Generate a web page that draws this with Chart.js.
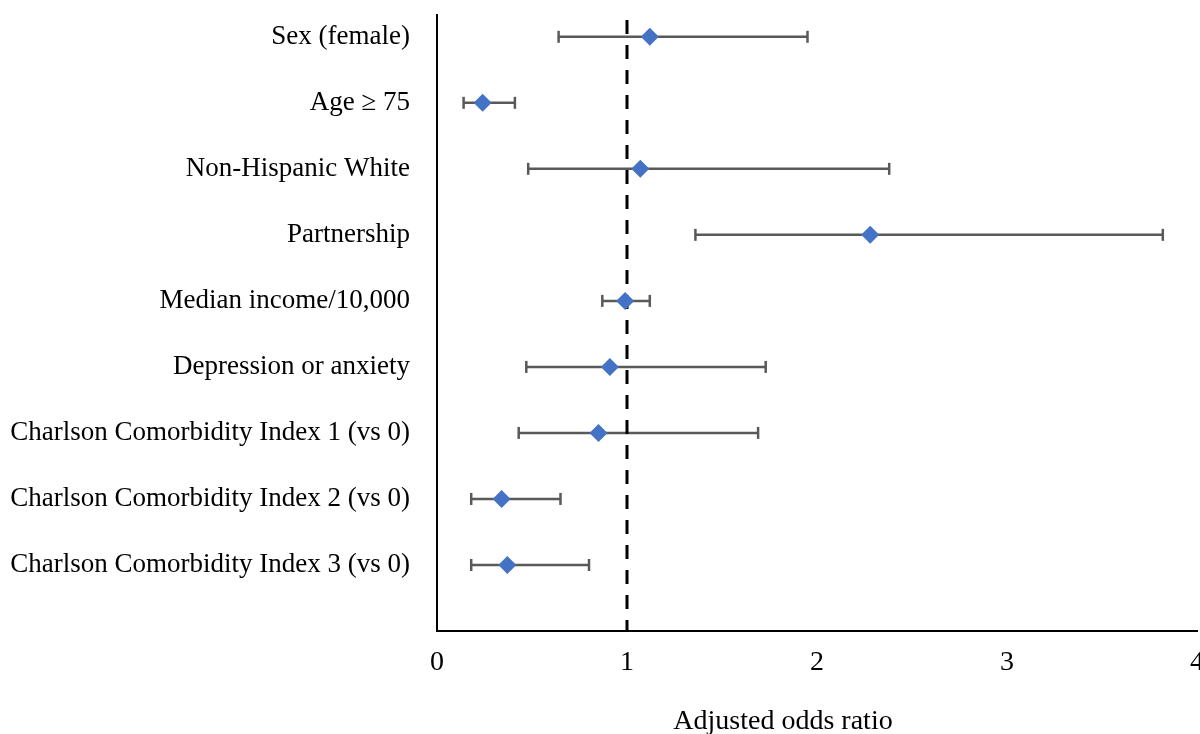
<!DOCTYPE html>
<html><head><meta charset="utf-8">
<script src="https://cdn.jsdelivr.net/npm/chart.js@4/dist/chart.umd.min.js"></script>
<style>html,body{margin:0;padding:0;background:#fff}#wrap{width:1200px;height:734px}</style>
</head><body><div id="wrap"><canvas id="c" width="1200" height="734"></canvas></div>
<script>
const categories = [
  "Sex (female)",
  "Age \u2265 75",
  "Non-Hispanic White",
  "Partnership",
  "Median income/10,000",
  "Depression or anxiety",
  "Charlson Comorbidity Index 1 (vs 0)",
  "Charlson Comorbidity Index 2 (vs 0)",
  "Charlson Comorbidity Index 3 (vs 0)"
];
const oddsRatios = [1.12, 0.24, 1.07, 2.28, 0.99, 0.91, 0.85, 0.34, 0.37];
const lowerCI    = [0.64, 0.14, 0.48, 1.36, 0.87, 0.47, 0.43, 0.18, 0.18];
const upperCI    = [1.95, 0.41, 2.38, 3.82, 1.12, 1.73, 1.69, 0.65, 0.80];
const xTicks = [0, 1, 2, 3, 4];
const referenceValue = 1;
const xTitle = "Adjusted odds ratio";

const FONT = "'Liberation Serif', 'Times New Roman', serif";
const Y_MIN = 0.67, Y_MAX = 10;

const pointData = categories.map((c, i) => ({ x: oddsRatios[i], y: i + 1 }));
const barData = [];
categories.forEach((c, i) => {
  barData.push({ x: lowerCI[i], y: i + 1 });
  barData.push({ x: upperCI[i], y: i + 1 });
  barData.push({ x: NaN, y: NaN });
});

const ZERO_PAD = () => ({ left: 0, top: 0, right: 0, bottom: 0 });

const titlePlugin = {
  id: 'xTitle',
  afterDraw(chart) {
    const ctx = chart.ctx;
    ctx.save();
    ctx.font = "28px " + FONT;
    ctx.fillStyle = "#000";
    ctx.textAlign = "center";
    ctx.textBaseline = "alphabetic";
    ctx.fillText(xTitle, 783, 729);
    ctx.restore();
  }
};

new Chart(document.getElementById('c'), {
  type: 'scatter',
  data: {
    datasets: [
      {
        type: 'scatter',
        data: pointData,
        pointStyle: 'rectRot',
        pointRadius: 9,
        backgroundColor: '#4472C4',
        borderColor: '#4472C4',
        borderWidth: 0,
        order: 0
      },
      {
        type: 'line',
        data: [{ x: referenceValue, y: Y_MIN }, { x: referenceValue, y: Y_MAX }],
        borderColor: '#000',
        borderWidth: 3,
        borderDash: [14, 11],
        borderDashOffset: -5,
        pointRadius: 0,
        order: 1
      },
      {
        type: 'line',
        data: barData,
        borderColor: '#595959',
        borderWidth: 2.5,
        spanGaps: false,
        pointStyle: 'line',
        rotation: 90,
        pointRadius: 6,
        pointBorderColor: '#595959',
        pointBorderWidth: 2.5,
        order: 2
      }
    ]
  },
  options: {
    responsive: false,
    animation: false,
    devicePixelRatio: 1,
    events: [],
    layout: { autoPadding: false, padding: { top: 15, right: 3, left: 0, bottom: 0 } },
    plugins: { legend: { display: false }, tooltip: { enabled: false } },
    scales: {
      x: {
        type: 'linear',
        min: 0, max: 4,
        afterBuildTicks: s => { s.ticks = xTicks.map(v => ({ value: v })); },
        afterFit: s => {
          s.height = 103; s.paddingLeft = 0; s.paddingRight = 0;
          s.getPadding = ZERO_PAD;
        },
        grid: { display: false, drawTicks: false },
        border: { display: true, color: '#000', width: 2 },
        ticks: { color: '#000', font: { family: FONT, size: 28 }, padding: 15, maxRotation: 0 }
      },
      y: {
        type: 'linear',
        reverse: true,
        min: Y_MIN, max: Y_MAX,
        afterBuildTicks: s => { s.ticks = categories.map((c, i) => ({ value: i + 1 })); },
        afterFit: s => {
          s.width = 437; s.paddingTop = 0; s.paddingBottom = 0;
          s.getPadding = ZERO_PAD;
        },
        grid: { display: false, drawTicks: false },
        border: { display: true, color: '#000', width: 2 },
        ticks: {
          color: '#000', font: { family: FONT, size: 27 }, padding: 27,
          callback: v => categories[Math.round(v) - 1] ?? ''
        }
      }
    }
  },
  plugins: [titlePlugin]
});
</script>
</body></html>
